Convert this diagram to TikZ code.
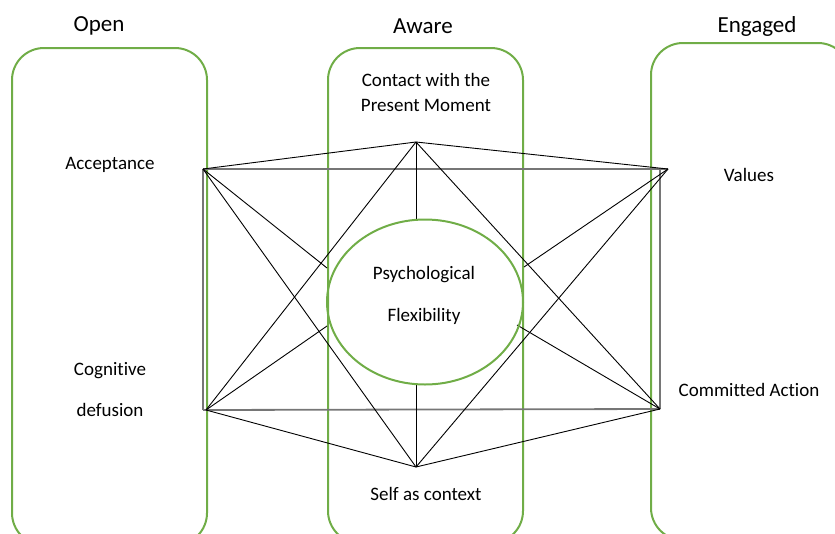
\documentclass[tikz,border=0pt]{standalone}
\usepackage{fontspec}
\setmainfont{Carlito}[Ligatures=NoCommon]
\usetikzlibrary{shapes.geometric}
\definecolor{grn}{HTML}{70AD47}
\definecolor{gry}{HTML}{767676}
\begin{document}
\begin{tikzpicture}[x=1pt,y=-1pt,
 box/.style={draw=grn, line width=2pt, rounded corners=32pt},
 ttl/.style={font=\fontsize{23}{28}\selectfont, inner sep=0pt},
 lbl/.style={font=\fontsize{19}{25}\selectfont, align=center, inner sep=0pt},
 link/.style={draw=black, line width=0.9pt},
 frm/.style={draw=gry, line width=1.8pt},
 circ/.style={draw=grn, line width=2pt, ellipse, inner sep=0pt, minimum width=196pt, minimum height=165pt},
]
\useasboundingbox (0,0) rectangle (835,533);
\clip (0,0) rectangle (835,533);
% column boxes
\draw[box] (12,48) rectangle (207,545);
\draw[box] (328,48) rectangle (523,543);
\draw[box] (651,43) rectangle (850,540);
% titles
\node[ttl] (open) at (99,26) {Open};
\node[ttl] (aware) at (423,26) {Aware};
\node[ttl] (engaged) at (757,26) {Engaged};
% labels
\node[lbl] (contact) at (426,92) {Contact with the\\Present Moment};
\node[lbl] (accept) at (110,165) {Acceptance};
\node[lbl] (values) at (749,175) {Values};
\node[lbl] (cogdef) at (110,390) {Cognitive\\[16pt]defusion};
\node[lbl] (commit) at (749,390) {Committed Action};
\node[lbl] (self) at (426,494) {Self as context};
% hexagon vertices
\coordinate (A) at (203,169);
\coordinate (C) at (416,142);
\coordinate (V) at (668,169);
\coordinate (Vg) at (660,169);
\coordinate (D) at (206,410);
\coordinate (Dg) at (203,410);
\coordinate (CA) at (660,409);
\coordinate (S) at (416,467);
% spoke ends on the ellipse
\coordinate (e1) at (327,268);
\coordinate (e2) at (327,326);
\coordinate (e3) at (524,267);
\coordinate (e4) at (517,325);
\coordinate (et) at (416,220);
\coordinate (eb) at (416,385);
% gray frame
\draw[frm] (A) -- (V);
\draw[frm] (A) -- (Dg);
\draw[frm] (Dg) -- (CA);
\draw[frm] (Vg) -- (CA);
% black connectors
\draw[link] (C) -- (A);
\draw[link] (C) -- (V);
\draw[link] (C) -- (D);
\draw[link] (C) -- (CA);
\draw[link] (C) -- (et);
\draw[link] (S) -- (D);
\draw[link] (S) -- (CA);
\draw[link] (S) -- (A);
\draw[link] (S) -- (V);
\draw[link] (S) -- (eb);
\draw[link] (A) -- (e1);
\draw[link] (D) -- (e2);
\draw[link] (V) -- (e3);
\draw[link] (CA) -- (e4);
% central ellipse
\node[circ] (PF) at (425,302) {};
\node[lbl] (pftext) at (424,295) {Psychological\\[17pt]Flexibility};
\end{tikzpicture}
\end{document}
